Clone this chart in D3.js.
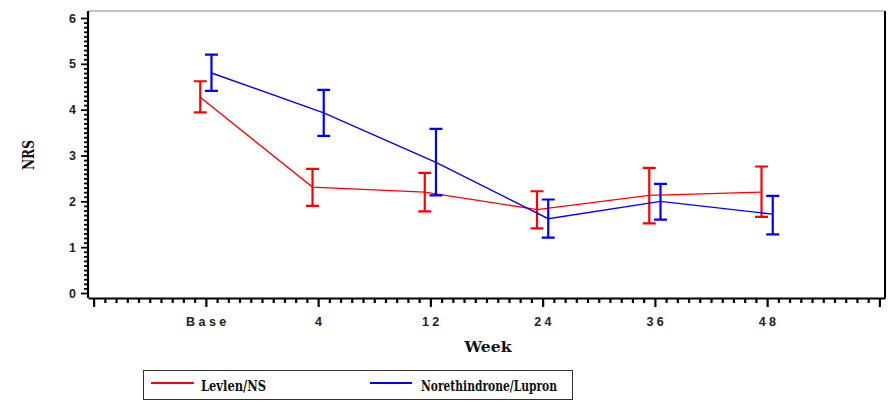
<!DOCTYPE html>
<html>
<head>
<meta charset="utf-8">
<script src="https://cdn.jsdelivr.net/npm/d3@7"></script>
<style>
  html, body { margin: 0; padding: 0; background: #fff; }
  svg { display: block; }
</style>
</head>
<body>
<svg id="chart" width="889" height="409"></svg>
<script>
// Visit labels along the x axis
const weeks = ["Base", "4", "12", "24", "36", "48"];

// Levlen/NS: mean NRS with lower / upper error limits
const levlenMean = [4.27, 2.31, 2.20, 1.82, 2.13, 2.20];
const levlenLow  = [3.94, 1.90, 1.78, 1.41, 1.52, 1.66];
const levlenHigh = [4.62, 2.71, 2.62, 2.22, 2.73, 2.76];

// Norethindrone/Lupron: mean NRS with lower / upper error limits
const noreMean = [4.80, 3.93, 2.85, 1.62, 2.00, 1.72];
const noreLow  = [4.41, 3.43, 2.13, 1.21, 1.60, 1.28];
const noreHigh = [5.20, 4.43, 3.58, 2.04, 2.38, 2.12];

const yTicks = [0, 1, 2, 3, 4, 5, 6];

const series = [
  { name: "Levlen/NS", color: "#ff0000", mean: levlenMean, low: levlenLow, high: levlenHigh, shift: -0.05 },
  { name: "Norethindrone/Lupron", color: "#0000ff", mean: noreMean, low: noreLow, high: noreHigh, shift: 0.05 }
];

const svg = d3.select("#chart");

const plot = { left: 88, right: 885, top: 11, bottom: 298 };

// Category positions sit at 1..6 on a continuous axis with minor ticks every 0.1
const x = d3.scaleLinear().domain([-0.05, 7.05]).range([plot.left, plot.right]);
const y = d3.scaleLinear().domain([0, 6]).range([293, 18]);

const labelFont = "'Liberation Sans', Arial, sans-serif";
const titleFont = "'DejaVu Serif', 'Liberation Serif', serif";

// Plot frame: top thin gray, right heavy black
svg.append("line")
  .attr("x1", plot.left).attr("x2", plot.right)
  .attr("y1", plot.top).attr("y2", plot.top)
  .attr("stroke", "#888").attr("stroke-width", 1.2);
svg.append("line")
  .attr("x1", plot.right).attr("x2", plot.right)
  .attr("y1", plot.top).attr("y2", plot.bottom)
  .attr("stroke", "#000").attr("stroke-width", 2);

// Bottom axis with minor ticks
const xTickVals = d3.range(0, 71).map(d => d / 10);
const xAxis = d3.axisBottom(x)
  .tickValues(xTickVals)
  .tickSize(4)
  .tickSizeOuter(0)
  .tickFormat("");
const gx = svg.append("g")
  .attr("transform", `translate(0,${plot.bottom})`)
  .call(xAxis);
gx.select(".domain").attr("stroke", "#000").attr("stroke-width", 2.2);
gx.selectAll(".tick line")
  .attr("stroke", "#000")
  .attr("stroke-width", 2.2)
  .attr("y2", d => (Math.abs(d - Math.round(d)) < 1e-6 ? 9 : 5));

svg.append("g").selectAll("text")
  .data(weeks)
  .join("text")
  .attr("x", (d, i) => x(i + 1) + 2)
  .attr("y", 326)
  .attr("text-anchor", "middle")
  .attr("font-family", labelFont)
  .attr("font-weight", "bold")
  .attr("font-size", 12.5)
  .attr("letter-spacing", 3.5)
  .attr("fill", "#222")
  .text(d => d);

// Left axis with minor ticks
const yTickVals = d3.range(0, 61).map(d => d / 10);
const yAxis = d3.axisLeft(y)
  .tickValues(yTickVals)
  .tickSize(3)
  .tickSizeOuter(0)
  .tickFormat("");
const gy = svg.append("g")
  .attr("transform", `translate(${plot.left},0)`)
  .call(yAxis);
gy.select(".domain")
  .attr("d", `M0,${plot.top}V${plot.bottom}`)
  .attr("stroke", "#000").attr("stroke-width", 2.2);
gy.selectAll(".tick line")
  .attr("stroke", "#000")
  .attr("stroke-width", 1.8)
  .attr("x2", d => (Math.abs(d - Math.round(d)) < 1e-6 ? -7 : -4));

svg.append("g").selectAll("text")
  .data(yTicks)
  .join("text")
  .attr("x", 76)
  .attr("y", d => y(d))
  .attr("dy", "0.36em")
  .attr("text-anchor", "end")
  .attr("font-family", labelFont)
  .attr("font-weight", "bold")
  .attr("font-size", 12.5)
  .attr("fill", "#222")
  .text(d => d);

// Axis titles
svg.append("text")
  .attr("transform", "translate(34,155) rotate(-90)")
  .attr("text-anchor", "middle")
  .attr("font-family", titleFont)
  .attr("font-weight", "bold")
  .attr("font-size", 16)
  .attr("textLength", 30)
  .attr("lengthAdjust", "spacingAndGlyphs")
  .attr("fill", "#111")
  .text("NRS");

svg.append("text")
  .attr("x", 488)
  .attr("y", 352)
  .attr("text-anchor", "middle")
  .attr("font-family", titleFont)
  .attr("font-weight", "bold")
  .attr("font-size", 14)
  .attr("textLength", 47)
  .attr("lengthAdjust", "spacingAndGlyphs")
  .attr("fill", "#111")
  .text("Week");

// Series: connecting lines, then error bars with caps
const capHalf = 6.5;
series.forEach(s => {
  const pts = s.mean.map((m, i) => ({ xi: i + 1 + s.shift, m, lo: s.low[i], hi: s.high[i] }));

  svg.append("path")
    .datum(pts)
    .attr("fill", "none")
    .attr("stroke", s.color)
    .attr("stroke-width", 1.4)
    .attr("d", d3.line().x(d => x(d.xi)).y(d => y(d.m)));

  const bars = svg.append("g")
    .attr("stroke", s.color)
    .attr("stroke-width", 2.2)
    .attr("fill", "none");

  bars.selectAll("path")
    .data(pts)
    .join("path")
    .attr("d", d => {
      const cx = x(d.xi), y0 = y(d.lo), y1 = y(d.hi);
      return `M${cx},${y0}V${y1}` +
             `M${cx - capHalf},${y1}H${cx + capHalf}` +
             `M${cx - capHalf},${y0}H${cx + capHalf}`;
    });
});

// Legend
const legend = svg.append("g");
legend.append("rect")
  .attr("x", 143.5).attr("y", 370.5)
  .attr("width", 429).attr("height", 29)
  .attr("fill", "#fff")
  .attr("stroke", "#333")
  .attr("stroke-width", 1);

const legendItems = [
  { s: series[0], x0: 151, x1: 194, tx: 201, tw: 65 },
  { s: series[1], x0: 370, x1: 412, tx: 421, tw: 136 }
];
legendItems.forEach(it => {
  legend.append("line")
    .attr("x1", it.x0).attr("x2", it.x1)
    .attr("y1", 383).attr("y2", 383)
    .attr("stroke", it.s.color)
    .attr("stroke-width", 2);
  legend.append("text")
    .attr("x", it.tx)
    .attr("y", 391)
    .attr("font-family", titleFont)
    .attr("font-weight", "bold")
    .attr("font-size", 14)
    .attr("textLength", it.tw)
    .attr("lengthAdjust", "spacingAndGlyphs")
    .attr("fill", "#111")
    .text(it.s.name);
});
</script>
</body>
</html>
